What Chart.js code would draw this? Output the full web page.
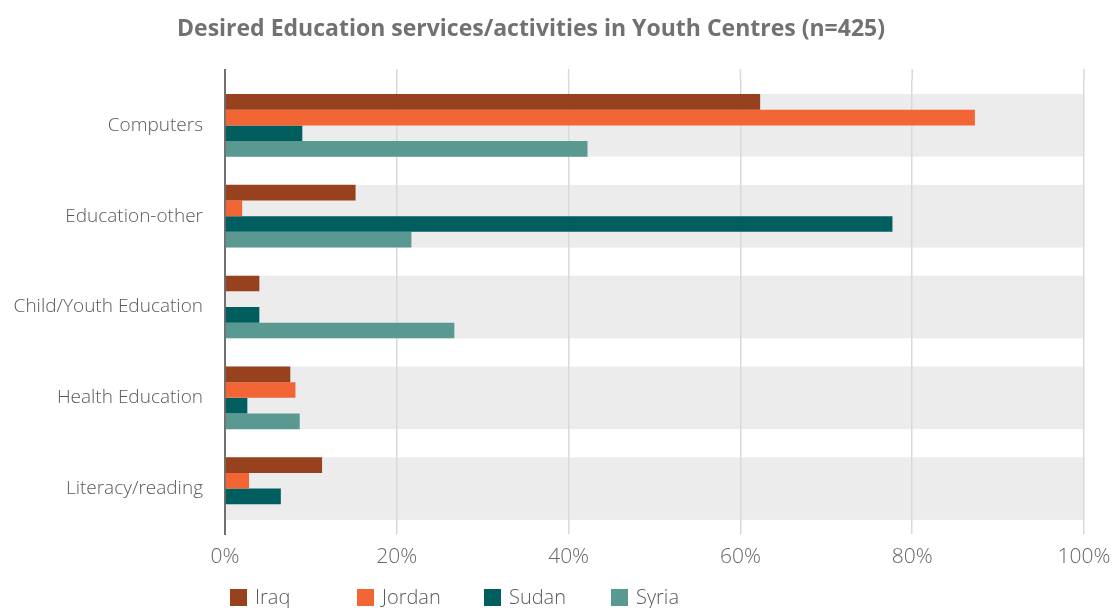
<!DOCTYPE html>
<html>
<head>
<meta charset="utf-8">
<script src="https://cdn.jsdelivr.net/npm/chart.js@4/dist/chart.umd.min.js"></script>
<style>
  body { margin: 0; background: #fff; }
  #wrap { position: relative; width: 1116px; height: 608px; }
  #title {
    position: absolute; left: 0; top: 11px; width: 1062px;
    text-align: center; font: bold 23px "Open Sans", sans-serif; line-height: 32px;
    color: #717174;
  }
  #legend {
    position: absolute; left: 230px; top: 587px; display: flex;
    font: 300 20px "Open Sans", sans-serif; color: #595959; line-height: 20px;
  }
  .legendItem { display: flex; align-items: center; width: 127px; }
  .legendBox { width: 17px; height: 17px; margin-right: 8px; }
</style>
</head>
<body>
<div id="wrap">
  <canvas id="myChart" width="1116" height="608"></canvas>
  <div id="title">Desired Education services/activities in Youth Centres (n=425)</div>
  <div id="legend"></div>
</div>
<script>
// Share of respondents (%) wanting each service, by country
const categories = ['Computers', 'Education-other', 'Child/Youth Education', 'Health Education', 'Literacy/reading'];
const iraq = [62.3, 15.2, 4.0, 7.6, 11.3];
const jordan = [87.3, 2.0, 0, 8.2, 2.8];
const sudan = [9.0, 77.7, 4.0, 2.6, 6.5];
const syria = [42.2, 21.7, 26.7, 8.7, 0];
const xTicks = [0, 20, 40, 60, 80, 100];

const countries = ['Iraq', 'Jordan', 'Sudan', 'Syria'];
const colors = ['#98411e', '#f26534', '#005e5e', '#5a9892'];
const BAND_PCT = 0.69;

// Grey band behind each category group, plus grid lines poking above the plot
const bandPlugin = {
    id: 'bands',
    beforeDraw(chart) {
        const { ctx, chartArea, scales } = chart;
        const y = scales.y;
        const step = (chartArea.bottom - chartArea.top) / categories.length;
        ctx.save();
        ctx.fillStyle = '#ececec';
        categories.forEach((c, i) => {
            const mid = y.getPixelForValue(i);
            ctx.fillRect(chartArea.left, mid - step * BAND_PCT / 2, chartArea.right - chartArea.left, step * BAND_PCT);
        });
        scales.x.ticks.forEach(t => {
            const px = scales.x.getPixelForValue(t.value);
            ctx.strokeStyle = t.value === 0 ? '#707070' : '#d9d9d9';
            ctx.lineWidth = t.value === 0 ? 2 : 1.5;
            ctx.beginPath();
            ctx.moveTo(px, chartArea.top - 11);
            ctx.lineTo(px, chartArea.top);
            ctx.stroke();
        });
        ctx.restore();
    }
};

const ctx = document.getElementById('myChart').getContext('2d');
const chart = new Chart(ctx, {
    type: 'bar',
    data: {
        labels: categories,
        datasets: [iraq, jordan, sudan, syria].map((values, i) => ({
            label: countries[i],
            data: values,
            backgroundColor: colors[i],
            borderWidth: 0,
            categoryPercentage: BAND_PCT,
            barPercentage: 1
        }))
    },
    options: {
        indexAxis: 'y',
        responsive: false,
        animation: false,
        layout: { padding: { top: 80, right: 32, bottom: 41, left: 0 } },
        plugins: {
            legend: { display: false },
            title: { display: false },
            tooltip: { enabled: false }
        },
        scales: {
            x: {
                min: 0,
                max: 100,
                afterBuildTicks: scale => { scale.ticks = xTicks.map(v => ({ value: v })); },
                afterFit: scale => {
                    scale.height = 33;
                    // let the layout padding decide the right edge instead of the last label
                    scale.paddingLeft = 0;
                    scale.paddingRight = 0;
                },
                grid: { color: '#d9d9d9', lineWidth: 1.5, drawTicks: false },
                border: { display: false },
                ticks: {
                    padding: 10,
                    color: '#666666',
                    font: { family: 'Open Sans', size: 21, weight: 300 },
                    callback: v => v + '%'
                }
            },
            y: {
                afterFit: scale => { scale.width = 225; },
                grid: { display: false, drawTicks: false },
                border: { display: true, color: '#707070', width: 2 },
                ticks: {
                    padding: 22,
                    color: '#595959',
                    font: { family: 'Open Sans', size: 19, weight: 300 }
                }
            }
        }
    },
    plugins: [bandPlugin]
});

// Legend laid out in fixed-width slots under the axis
const legendEl = document.getElementById('legend');
chart.data.datasets.forEach(ds => {
    const item = document.createElement('div');
    item.className = 'legendItem';
    item.innerHTML = `<span class="legendBox" style="background:${ds.backgroundColor}"></span><span>${ds.label}</span>`;
    legendEl.appendChild(item);
});
</script>
</body>
</html>
